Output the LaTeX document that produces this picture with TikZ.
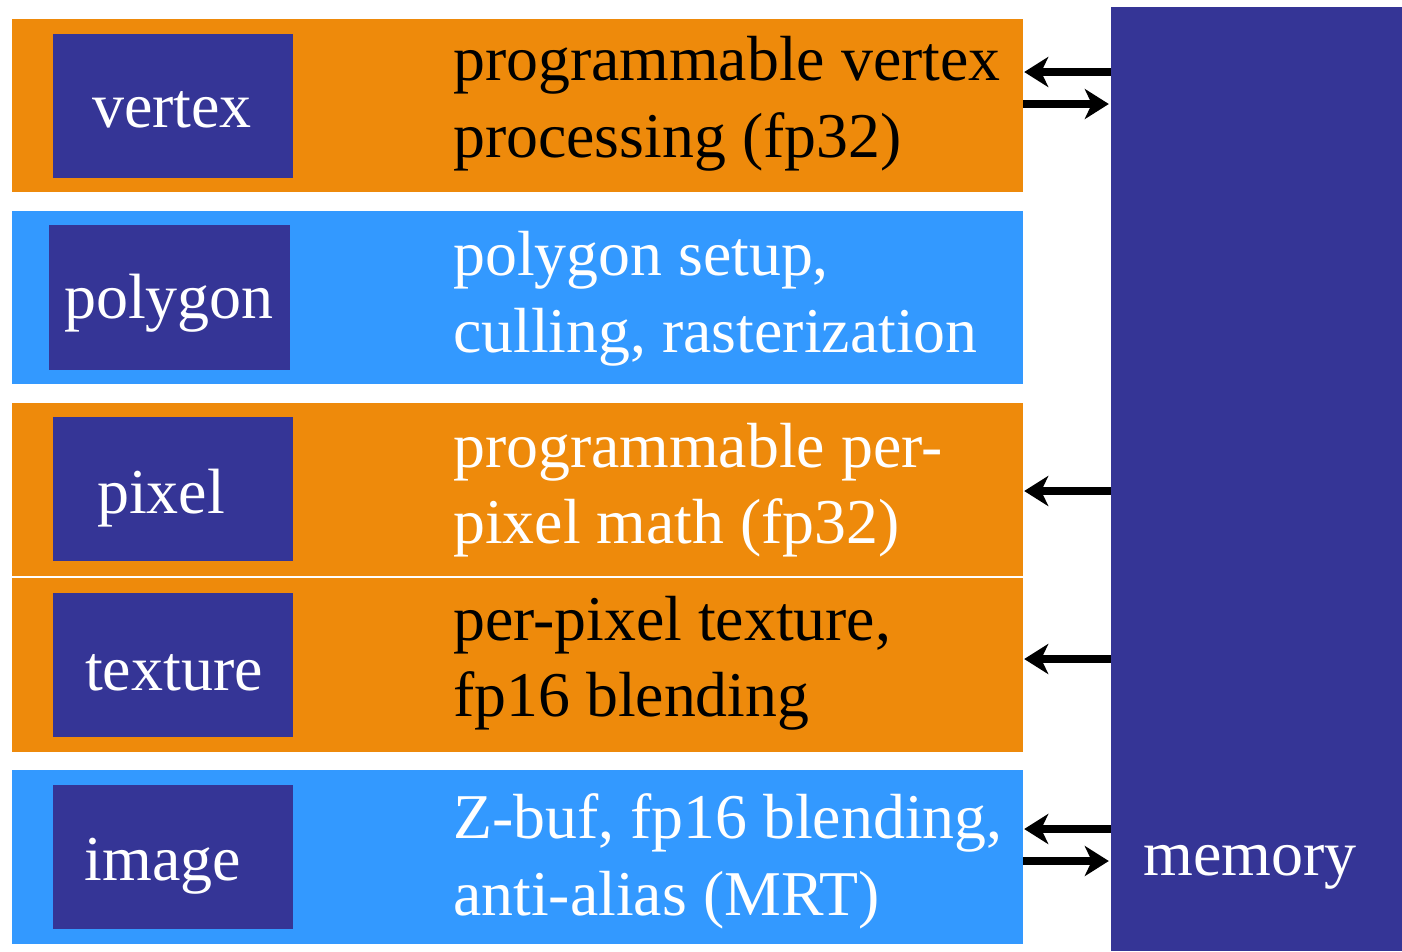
\documentclass[tikz,border=0pt]{standalone}
\usepackage{fontspec}
\setmainfont{Liberation Serif}
\usetikzlibrary{arrows.meta}
\definecolor{orng}{RGB}{238,138,11}
\definecolor{lblue}{RGB}{51,153,255}
\definecolor{dblue}{RGB}{53,53,150}
\tikzset{
  txt/.style={anchor=base west, inner sep=0pt, font=\fontsize{63.8}{77}\selectfont},
  lbl/.style={anchor=base, inner sep=0pt, text=white, font=\fontsize{64}{77}\selectfont},
  arr/.style={line width=8pt, -{Stealth[length=24pt,width=30pt,inset=7pt]}}
}
\begin{document}
\begin{tikzpicture}[x=1pt,y=-1pt]
\useasboundingbox (0,0) rectangle (1402,951);
\fill[white] (0,0) rectangle (1402,951);
% memory
\path[fill=dblue] (1111,7) rectangle (1402,951);
\node[inner sep=0pt] (mem) at (1256.5,479) [minimum width=291pt, minimum height=944pt] {};
\node[lbl] (memt) at (1250,875) {memory};
% bands
\fill[orng] (12,19) rectangle (1023,192);
\node[inner sep=0pt, minimum width=1011pt, minimum height=173pt] (b1) at (517.5,105.5) {};
\fill[lblue] (12,211) rectangle (1023,384);
\node[inner sep=0pt, minimum width=1011pt, minimum height=173pt] (b2) at (517.5,297.5) {};
\fill[orng] (12,403) rectangle (1023,576);
\node[inner sep=0pt, minimum width=1011pt, minimum height=173pt] (b3) at (517.5,489.5) {};
\fill[orng] (12,578) rectangle (1023,752);
\node[inner sep=0pt, minimum width=1011pt, minimum height=174pt] (b4) at (517.5,665) {};
\fill[lblue] (12,770) rectangle (1023,944);
\node[inner sep=0pt, minimum width=1011pt, minimum height=174pt] (b5) at (517.5,857) {};
% inner boxes
\fill[dblue] (53,34) rectangle (293,178);
\fill[dblue] (49,225) rectangle (290,370);
\fill[dblue] (53,417) rectangle (293,561);
\fill[dblue] (53,593) rectangle (293,737);
\fill[dblue] (53,785) rectangle (293,929);
\node[lbl] (l1) at (172,127) {vertex};
\node[lbl] (l2) at (169,318) {polygon};
\node[lbl] (l3) at (161,513) {pixel};
\node[lbl] (l4) at (174,690) {texture};
\node[lbl] (l5) at (163,880) {image};
% descriptions
\node[txt, text=black] (t1a) at (453,80) {programmable vertex};
\node[txt, text=black] (t1b) at (453,157) {processing (fp32)};
\node[txt, text=white] (t2a) at (453,275) {polygon setup,};
\node[txt, text=white] (t2b) at (453,352) {culling, rasterization};
\node[txt, text=white] (t3a) at (453,467) {programmable per-};
\node[txt, text=white] (t3b) at (453,543) {pixel math (fp32)};
\node[txt, text=black] (t4a) at (453,640) {per-pixel texture,};
\node[txt, text=black] (t4b) at (453,716) {fp16 blending};
\node[txt, text=white] (t5a) at (453,838) {Z-buf, fp16 blending,};
\node[txt, text=white] (t5b) at (453,915) {anti-alias (MRT)};
% arrows
\draw[arr] (mem.west |- 0,72) -- ([xshift=1pt]b1.east |- 0,72);
\draw[arr] (b1.east |- 0,104) -- ([xshift=-2pt]mem.west |- 0,104);
\draw[arr] (mem.west |- 0,491) -- ([xshift=1pt]b3.east |- 0,491);
\draw[arr] (mem.west |- 0,659) -- ([xshift=1pt]b4.east |- 0,659);
\draw[arr] (mem.west |- 0,829) -- ([xshift=1pt]b5.east |- 0,829);
\draw[arr] (b5.east |- 0,861) -- ([xshift=-2pt]mem.west |- 0,861);
\end{tikzpicture}
\end{document}
